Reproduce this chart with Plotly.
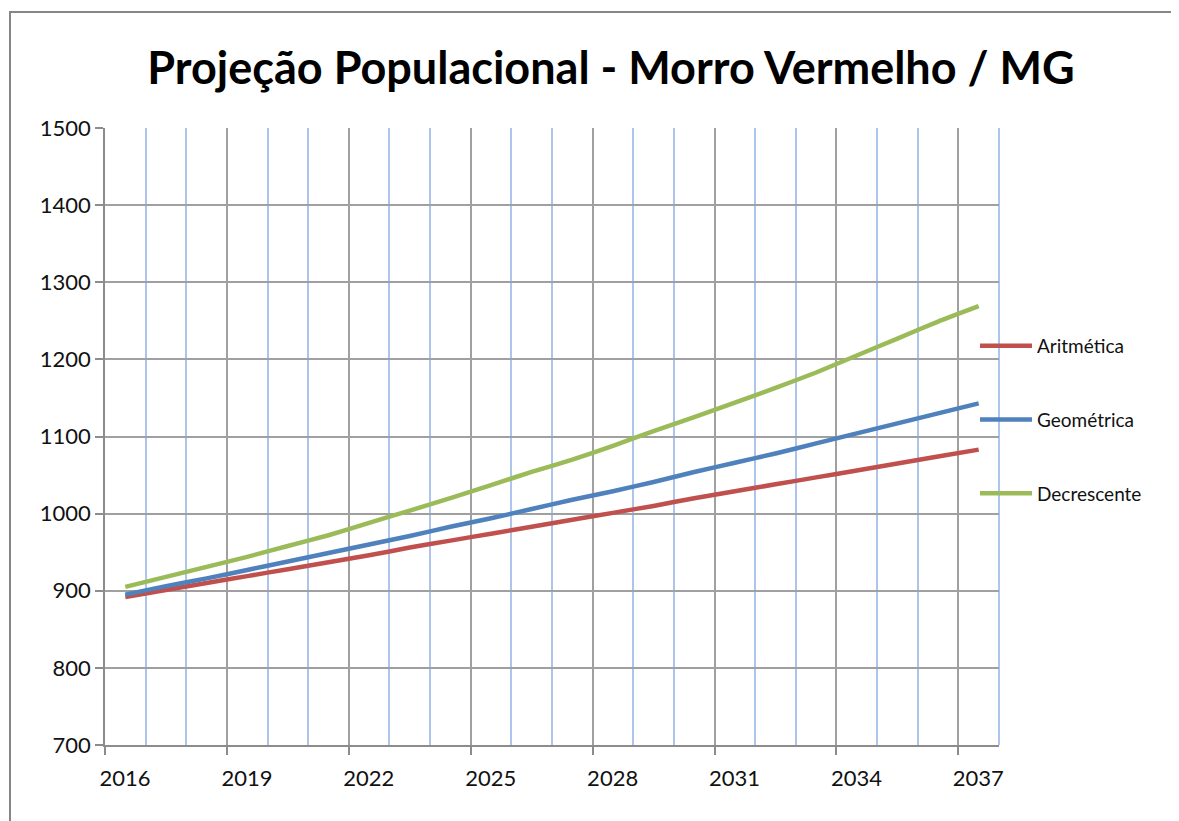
import plotly.graph_objects as go

years = list(range(2016, 2038))
aritmetica = [892, 901, 910, 919, 928, 937, 946, 956, 965, 974, 983,
              992, 1001, 1010, 1020, 1029, 1038, 1047, 1056, 1065, 1074, 1083]
geometrica = [895, 906, 916, 927, 938, 949, 960, 971, 983, 994, 1006,
              1018, 1029, 1041, 1054, 1066, 1078, 1091, 1104, 1117, 1130, 1143]
decrescente = [905, 918, 931, 944, 958, 972, 988, 1004, 1020, 1037, 1054,
               1070, 1088, 1107, 1125, 1144, 1163, 1183, 1205, 1227, 1249, 1269]
series_names = ["Aritmética", "Geométrica", "Decrescente"]
series_colors = ["#C0504D", "#4F81BD", "#9BBB59"]
tick_years = [2016, 2019, 2022, 2025, 2028, 2031, 2034, 2037]
title_text = "Projeção Populacional - Morro Vermelho / MG"

FONT = "Lato"
# page body has an 8px margin: figure origin sits at (8, 8)
OFF = 8
W, H = 1179 - OFF, 821 - OFF
L, T = 105 - OFF, 128 - OFF
R = 1179 - 999
B = 821 - 745
PW = W - L - R
PH = H - T - B
GRID_BLUE = "#ADC4EC"

fig = go.Figure()
for name, vals, col in zip(series_names, [aritmetica, geometrica, decrescente], series_colors):
    fig.add_trace(go.Scatter(
        x=years, y=vals, name=name, mode="lines",
        line=dict(color=col, width=4.5, shape="spline", smoothing=0.5),
        legendgroup=name,
    ))

fig.update_layout(
    width=W, height=H,
    margin=dict(l=L, r=R, t=T, b=B),
    paper_bgcolor="white", plot_bgcolor="white",
    title=dict(text=title_text, x=(611 - OFF) / W, xanchor="center",
               y=1 - (68 - OFF) / H, yanchor="middle",
               font=dict(family=FONT, size=45, color="black", weight="bold")),
    showlegend=True,
    legend=dict(x=(975 - 105) / PW, xanchor="left", y=(745 - 420) / PH, yanchor="middle",
                font=dict(family=FONT, size=19, color="#111"), tracegroupgap=46,
                itemwidth=52, bgcolor="rgba(0,0,0,0)"),
    font=dict(family=FONT, color="#111"),
)

fig.update_xaxes(
    range=[2015.5, 2037.5],
    tickmode="array",
    tickvals=[y - 0.5 for y in tick_years],
    ticktext=[str(y) for y in tick_years],
    ticklabelshift=20,
    ticklabelstandoff=5,
    ticks="outside", ticklen=8, tickcolor="#8C8C8C", tickwidth=1.5,
    showgrid=True, gridcolor="#A0A0A0", gridwidth=1.5,
    minor=dict(tick0=2015.5, dtick=1, showgrid=True, gridcolor=GRID_BLUE, gridwidth=2),
    showline=True, linecolor="#8C8C8C", linewidth=1.5,
    tickfont=dict(family=FONT, size=22, color="#111"),
    zeroline=False,
)
fig.update_yaxes(
    range=[700, 1500], dtick=100, tick0=700,
    ticks="outside", ticklen=8, tickcolor="#8C8C8C", tickwidth=1.5,
    showgrid=True, gridcolor="#A0A0A0", gridwidth=1.5,
    showline=True, linecolor="#8C8C8C", linewidth=1.5,
    tickfont=dict(family=FONT, size=22, color="#111"),
    zeroline=False,
)

# right boundary of the last category (Excel draws a minor gridline there)
fig.add_shape(type="line", xref="paper", yref="paper", x0=1, x1=1, y0=0, y1=1,
              line=dict(color=GRID_BLUE, width=2), layer="below")

fig.add_shape(type="rect", xref="paper", yref="paper",
              x0=(10 - 105) / PW, x1=(1190 - 105) / PW,
              y0=(745 - 830) / PH, y1=(745 - 12) / PH,
              line=dict(color="#868686", width=2), fillcolor="rgba(0,0,0,0)", layer="below")

fig.write_html("out.html")
